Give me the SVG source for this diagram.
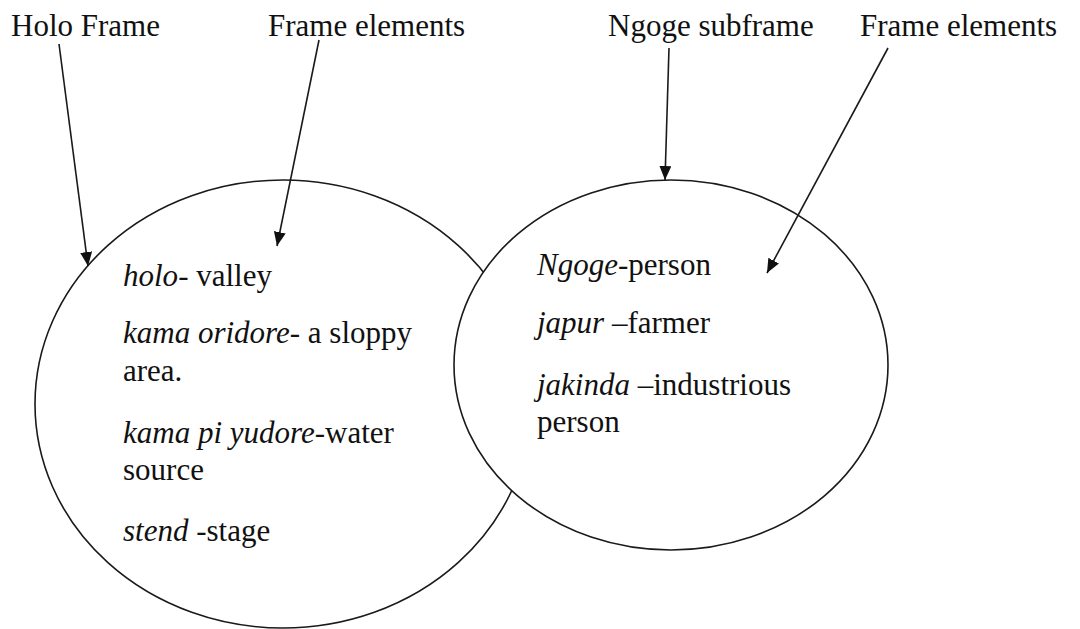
<svg xmlns="http://www.w3.org/2000/svg" width="1080" height="629" viewBox="0 0 1080 629">
  <style>
    .frame { fill: #ffffff; stroke: #1a1a1a; stroke-width: 1.6; }
    .lbl { font-family: "Liberation Serif", "Times New Roman", serif; font-size: 31px; fill: #111111; }
    .it { font-style: italic; }
    .conn { stroke: #1a1a1a; stroke-width: 1.6; fill: none; marker-end: url(#head); }
  </style>
  <defs>
    <marker id="head" markerUnits="userSpaceOnUse" markerWidth="16" markerHeight="14" refX="14" refY="6" orient="auto">
      <path d="M0,0 L14,6 L0,12 Z" fill="#111111"/>
    </marker>
  </defs>
  <rect width="1080" height="629" fill="#ffffff"/>

  <!-- Holo frame (larger circle, drawn first) -->
  <g id="holo-frame">
    <ellipse class="frame" cx="283" cy="404" rx="248" ry="224"/>
    <text class="lbl" x="123" y="286"><tspan class="it">holo</tspan>- valley</text>
    <text class="lbl" x="123" y="343"><tspan class="it">kama oridore</tspan>- a sloppy</text>
    <text class="lbl" x="123" y="381">area.</text>
    <text class="lbl" x="123" y="443"><tspan class="it">kama pi yudore</tspan>-water</text>
    <text class="lbl" x="123" y="480">source</text>
    <text class="lbl" x="123" y="541"><tspan class="it">stend</tspan> -stage</text>
  </g>

  <!-- Ngoge subframe (overlaps the Holo frame) -->
  <g id="ngoge-subframe">
    <ellipse class="frame" cx="671" cy="365" rx="217" ry="185"/>
    <text class="lbl" x="537" y="275"><tspan class="it">Ngoge</tspan>-person</text>
    <text class="lbl" x="537" y="333"><tspan class="it">japur</tspan> –farmer</text>
    <text class="lbl" x="537" y="395"><tspan class="it">jakinda</tspan> –industrious</text>
    <text class="lbl" x="537" y="432">person</text>
  </g>

  <!-- Top labels -->
  <g id="label-holo-frame"><text class="lbl" x="11" y="36">Holo Frame</text></g>
  <g id="label-frame-elements-1"><text class="lbl" x="268" y="36">Frame elements</text></g>
  <g id="label-ngoge-subframe"><text class="lbl" x="608" y="36">Ngoge subframe</text></g>
  <g id="label-frame-elements-2"><text class="lbl" x="860" y="36">Frame elements</text></g>

  <!-- Pointer arrows -->
  <g id="connectors">
    <line class="conn" x1="59" y1="44" x2="88" y2="266"/>
    <line class="conn" x1="319" y1="40" x2="277" y2="246"/>
    <line class="conn" x1="669" y1="48" x2="665" y2="180"/>
    <line class="conn" x1="888" y1="48" x2="767" y2="273"/>
  </g>
</svg>
